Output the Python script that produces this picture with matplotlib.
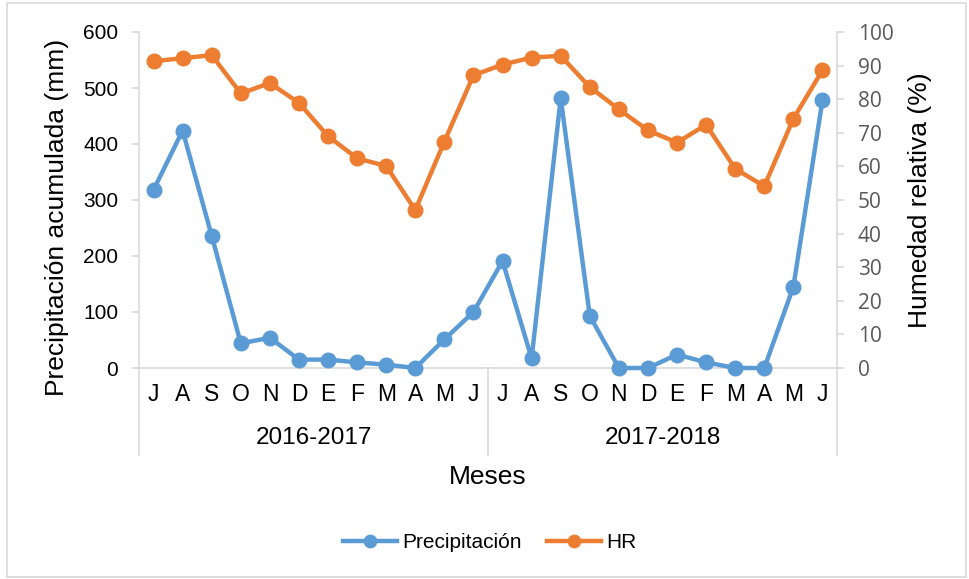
import matplotlib
matplotlib.use("Agg")
import matplotlib.pyplot as plt
from matplotlib.patches import Rectangle

months = ["J", "A", "S", "O", "N", "D", "E", "F", "M", "A", "M", "J",
          "J", "A", "S", "O", "N", "D", "E", "F", "M", "A", "M", "J"]
years = ["2016-2017", "2017-2018"]
precipitacion = [318, 424, 236, 44, 54, 15, 15, 10, 6, 0, 51, 100,
                 191, 17, 482, 93, 0, 0, 24, 10, 0, 0, 145, 478]
hr = [91.3, 92.2, 93.1, 81.7, 84.8, 78.9, 69.0, 62.4, 60.1, 47.0, 67.4, 87.1,
      90.3, 92.4, 92.9, 83.6, 77.0, 70.7, 67.1, 72.4, 59.3, 54.1, 74.2, 88.6]

W, H = 969, 579
BLUE = "#5B9BD5"
ORANGE = "#ED7D31"
GRID = "#D9D9D9"
FONT = ["Liberation Sans", "DejaVu Sans"]
plt.rcParams["font.family"] = FONT

fig = plt.figure(figsize=(W / 100, H / 100), dpi=100)
fig.patches.append(Rectangle((7 / W, 2 / H), 959 / W, 574 / H, transform=fig.transFigure,
                             fill=False, edgecolor=GRID, linewidth=1.2))

x0, x1, ytop, ybot = 139, 837, 32, 368
ax = fig.add_axes([x0 / W, 1 - ybot / H, (x1 - x0) / W, (ybot - ytop) / H])
ax2 = ax.twinx()

x = list(range(len(months)))
l1, = ax.plot(x, precipitacion, color=BLUE, lw=3.2, marker="o", ms=10.5,
              label="Precipitación", zorder=3, clip_on=False)
l2, = ax2.plot(x, hr, color=ORANGE, lw=3.2, marker="o", ms=10.5,
               label="HR", zorder=3, clip_on=False)

ax.set_xlim(-0.5, len(months) - 0.5)
ax.set_ylim(0, 600)
ax.set_yticks(range(0, 601, 100))
ax2.set_ylim(0, 100)
ax2.set_yticks(range(0, 101, 10))

for a in (ax, ax2):
    a.set_facecolor("none")
    for s in a.spines.values():
        s.set_color(GRID)
        s.set_linewidth(1.2)
    a.spines["top"].set_visible(False)
ax.spines["right"].set_visible(False)
ax2.spines["left"].set_visible(False)
ax2.spines["bottom"].set_visible(False)

ax.set_xticks(x)
ax.set_xticklabels(months, fontsize=16.5)
ax.tick_params(axis="x", length=0, pad=11, colors="black")
ax.tick_params(axis="y", length=5, width=1.2, color=GRID, labelsize=15, pad=10, labelcolor="black")
ax2.tick_params(axis="y", length=5, width=1.2, color=GRID, labelsize=15, pad=10, labelcolor="#595959")
for t in ax2.get_yticklabels():
    t.set_family(["Open Sans", "DejaVu Sans"])

# category separators
ext = (455 - ybot) / (ybot - ytop)
for xf in (0.0, 0.5, 1.0):
    ax.plot([xf, xf], [0, -ext], transform=ax.transAxes, color=GRID, lw=1.2, clip_on=False)

for i, yl in enumerate(years):
    ax.text(5.5 + 12 * i, -(438 - ybot) / (ybot - ytop), yl, transform=ax.get_xaxis_transform(),
            ha="center", va="center", fontsize=17.5)

ax.set_xlabel("Meses", fontsize=19)
ax.xaxis.set_label_coords((488 - x0) / (x1 - x0), -(477 - ybot) / (ybot - ytop))
ax.xaxis.label.set_va("center")
ax.set_ylabel("Precipitación acumulada (mm)", fontsize=19)
ax.yaxis.set_label_coords((57 - x0) / (x1 - x0), (ybot - 217) / (ybot - ytop))
ax.yaxis.label.set_va("center")
ax2.set_ylabel("Humedad relativa (%)", fontsize=19, rotation=90)
ax2.yaxis.set_label_coords((920 - x0) / (x1 - x0), 0.5)
ax2.yaxis.label.set_va("center")

fig.legend(handles=[l1, l2], loc="center", bbox_to_anchor=(489.5 / W, 1 - 543 / H),
           ncol=2, frameon=False, fontsize=15, handlelength=2.6, handletextpad=0.25,
           columnspacing=1.2, markerscale=0.85)

fig.savefig("out.png", dpi=100)
